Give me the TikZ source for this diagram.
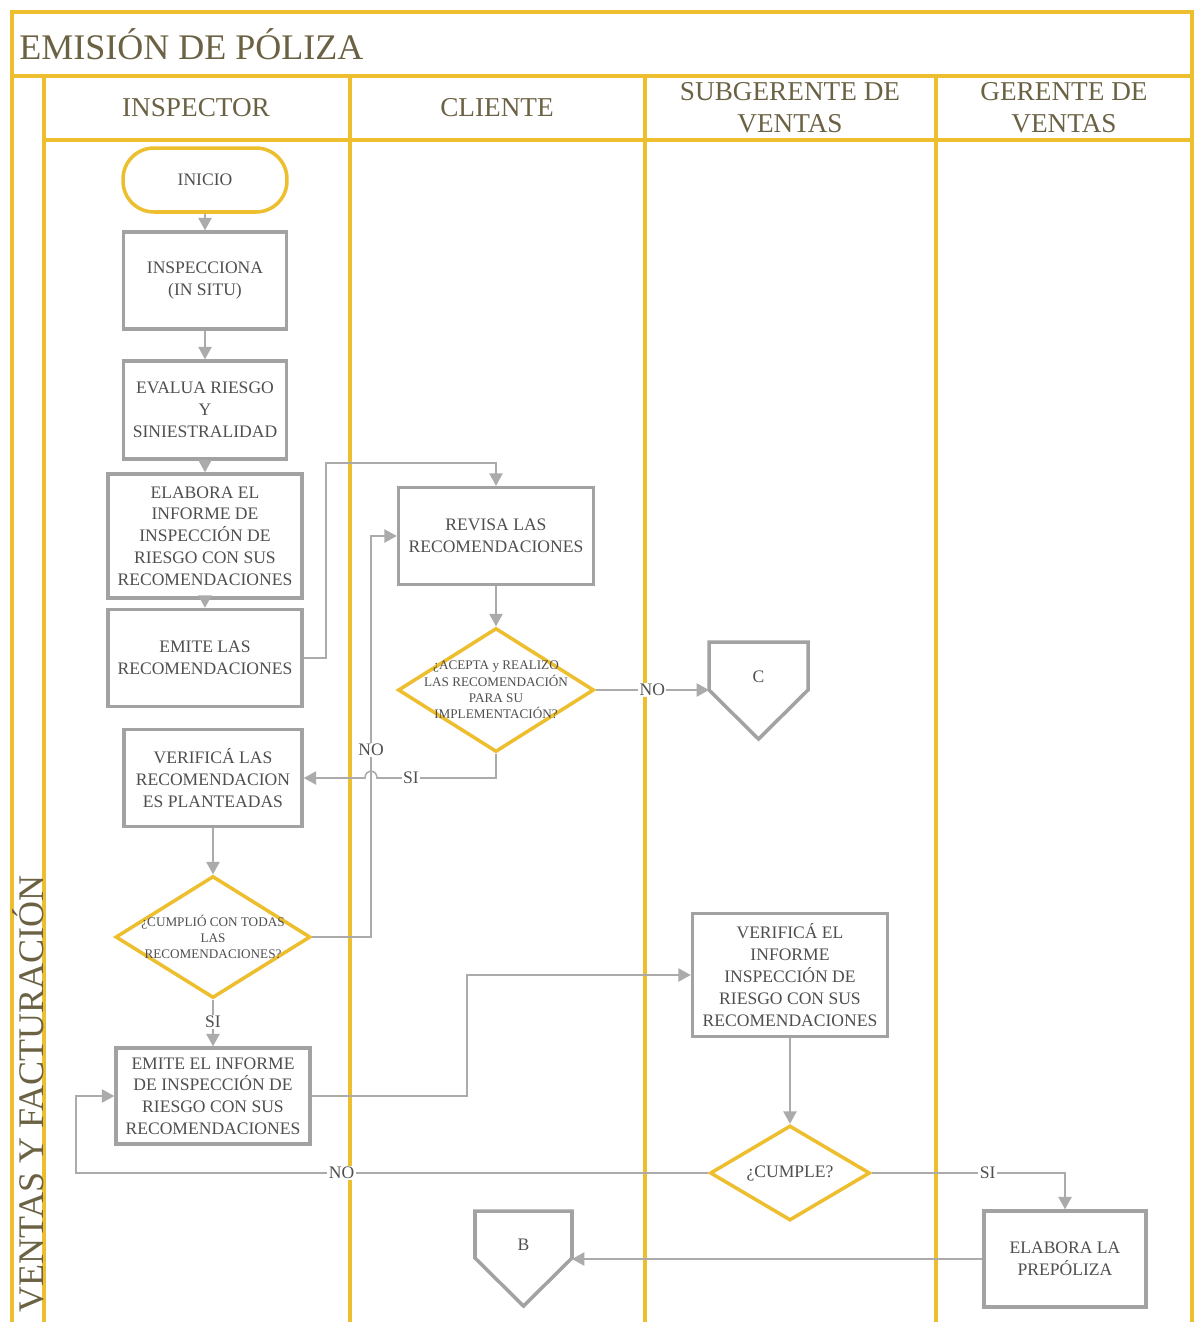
\documentclass[tikz,border=0pt]{standalone}
\usepackage{fontspec}
\setmainfont{Liberation Serif}
\usetikzlibrary{arrows.meta,shapes.geometric}
\definecolor{lane}{HTML}{EDBE2E}
\definecolor{boxline}{HTML}{A2A2A2}
\definecolor{wirec}{HTML}{ABABAB}
\definecolor{ink}{HTML}{4F4F4F}
\definecolor{head}{HTML}{6B6244}
\begin{document}
\begin{tikzpicture}[x=0.02cm,y=-0.02cm,
  lanerule/.style={draw=lane,line width=2.3pt},
  headtext/.style={text=head,align=center,inner sep=0pt,font=\fontsize{15.5}{18}\selectfont},
  stepbox/.style={draw=boxline,line width=2pt,fill=white,align=center,text=ink,
    inner sep=0pt,font=\fontsize{10}{12.4}\selectfont},
  startbox/.style={draw=lane,line width=2pt,fill=white,rounded corners=0.62cm,text=ink,
    inner sep=0pt,minimum width=3.28cm,minimum height=1.28cm,font=\fontsize{10}{12}\selectfont},
  dia/.style={draw=lane,line width=2pt,diamond,inner sep=0pt,fill=white},
  diatext/.style={align=center,text=ink,inner sep=0pt,font=\fontsize{7.5}{9.3}\selectfont},
  offpage/.style={draw=boxline,line width=2pt,line join=miter,fill=white},
  wire/.style={draw=wirec,line width=0.9pt,-{Triangle[length=7pt,width=7.5pt]}},
  lbl/.style={fill=white,inner sep=0.8pt,text=ink,font=\fontsize{10}{12}\selectfont},
]
\useasboundingbox (0,0) rectangle (1196,1322);
\fill[white] (0,0) rectangle (1196,1322);

% pool frame, title band and lanes
\draw[lanerule] (12,1322) -- (12,12) -- (1192,12) -- (1192,1322);
\draw[lanerule] (12,76) -- (1192,76);
\draw[lanerule] (44,140) -- (1192,140);
\foreach \lx in {44,350,645,936}
  \draw[lanerule] (\lx,76) -- (\lx,1322);

\node[anchor=west,inner sep=0pt,text=head,font=\fontsize{20.5}{24}\selectfont] (title) at (19,44) {EMISIÓN DE PÓLIZA};
\node[rotate=90,anchor=east,inner sep=0pt,text=head,font=\fontsize{20.5}{24}\selectfont] (pool) at (28,875) {VENTAS Y FACTURACIÓN};

\node[headtext] (hInsp) at (196,108) {INSPECTOR};
\node[headtext] (hCli) at (497,108) {CLIENTE};
\node[headtext] (hSub) at (790,108) {SUBGERENTE DE\\VENTAS};
\node[headtext] (hGer) at (1064,108) {GERENTE DE\\VENTAS};

% inspector lane
\node[startbox] (inicio) at (205,180) {INICIO};
\node[stepbox,minimum width=3.26cm,minimum height=1.94cm] (insp) at (205,280.5) {INSPECCIONA\\(IN SITU)};
\node[stepbox,minimum width=3.26cm,minimum height=1.96cm] (eval) at (205,410) {EVALUA RIESGO\\Y\\SINIESTRALIDAD};
\node[stepbox,minimum width=3.88cm,minimum height=2.48cm] (elab) at (205,536) {ELABORA EL\\INFORME DE\\INSPECCIÓN DE\\RIESGO CON SUS\\RECOMENDACIONES};
\node[stepbox,minimum width=3.88cm,minimum height=1.94cm] (emite1) at (205,658) {EMITE LAS\\RECOMENDACIONES};
\node[stepbox,minimum width=3.56cm,minimum height=1.94cm] (verif1) at (213,778) {VERIFICÁ LAS\\RECOMENDACION\\ES PLANTEADAS};
\node[dia,minimum width=3.9cm,minimum height=2.44cm] (cumplio) at (213,937) {};
\node[diatext] (cumplioT) at (cumplio) {¿CUMPLIÓ CON TODAS\\LAS\\RECOMENDACIONES?};
\node[stepbox,minimum width=3.88cm,minimum height=1.92cm] (emite2) at (213,1096) {EMITE EL INFORME\\DE INSPECCIÓN DE\\RIESGO CON SUS\\RECOMENDACIONES};

% client lane
\node[stepbox,minimum width=3.9cm,minimum height=1.94cm] (revisa) at (496,536) {REVISA LAS\\RECOMENDACIONES};
\node[dia,minimum width=3.92cm,minimum height=2.48cm] (acepta) at (496,690) {};
\node[diatext] (aceptaT) at (acepta) {¿ACEPTA y REALIZO\\LAS RECOMENDACIÓN\\PARA SU\\IMPLEMENTACIÓN?};

% off-page connector C
\draw[offpage] (709,642) -- (808,642) -- (808,690) -- (758.5,739) -- (709,690) -- cycle;
\node[text=ink,font=\fontsize{10}{12}\selectfont] (offC) at (758.5,677) {C};
\coordinate (Cw) at (709,690);

% off-page connector B
\draw[offpage] (475,1211) -- (572,1211) -- (572,1258) -- (523.5,1306) -- (475,1258) -- cycle;
\node[text=ink,font=\fontsize{10}{12}\selectfont] (offB) at (523.5,1245) {B};
\coordinate (Be) at (572,1259);

% sub-manager lane
\node[stepbox,minimum width=3.9cm,minimum height=2.46cm] (verif2) at (790,975) {VERIFICÁ EL\\INFORME\\INSPECCIÓN DE\\RIESGO CON SUS\\RECOMENDACIONES};
\node[dia,minimum width=3.2cm,minimum height=1.9cm] (cumple) at (790,1173) {};
\node[diatext,font=\fontsize{10}{12}\selectfont] (cumpleT) at (cumple) {¿CUMPLE?};

% manager lane
\node[stepbox,minimum width=3.24cm,minimum height=1.92cm] (prepol) at (1065,1259) {ELABORA LA\\PREPÓLIZA};

% connectors
\draw[wire] (inicio) -- (insp);
\draw[wire] (insp) -- (eval);
\draw[wire] (eval) -- (elab);
\draw[wire] (elab) -- (emite1);
\draw[wire] (emite1.east) -- (326,658) |- (496,463) -- (revisa.north);
\draw[wire] (revisa) -- (acepta);
\draw[wire] (acepta.east) -- node[lbl] {NO} (Cw);
\draw[wire] (cumplio.east) -- (371,937) |- (revisa.west);
\node[lbl] (noA) at (371,750) {NO};
\draw[wire] (acepta.south) |- (377,778) .. controls (377,769) and (365,769) .. (365,778) -- (verif1.east);
\node[lbl] (siA) at (411,778) {SI};
\draw[wire] (verif1) -- (cumplio);
\draw[wire] (cumplio) -- node[lbl,pos=0.48] {SI} (emite2);
\draw[wire] (emite2.east) -- (467,1096) |- (verif2.west);
\draw[wire] (verif2) -- (cumple);
\draw[wire] (cumple.west) -- node[lbl,pos=0.58] {NO} (76,1173) |- (emite2.west);
\draw[wire] (cumple.east) -- node[lbl,pos=0.6] {SI} (1065,1173) -- (prepol.north);
\draw[wire] (prepol.west) -- (Be);
\end{tikzpicture}
\end{document}
